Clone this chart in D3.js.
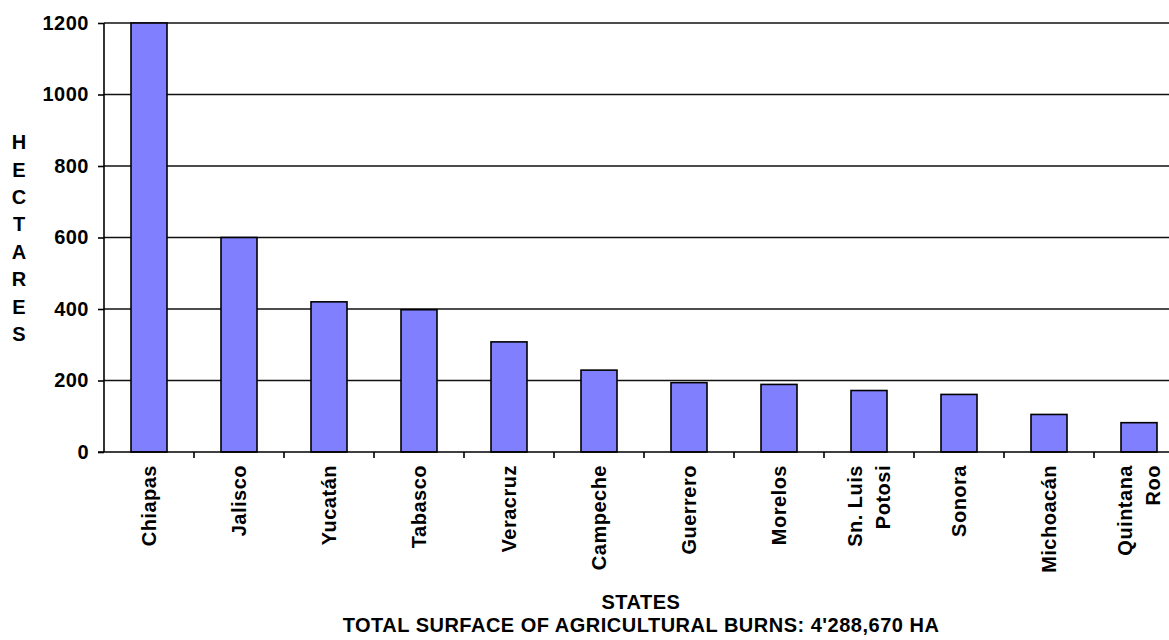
<!DOCTYPE html>
<html>
<head>
<meta charset="utf-8">
<script src="https://cdn.jsdelivr.net/npm/d3@7"></script>
<style>
  body { margin: 0; background: #fff; }
  text { font-family: Arial, "Liberation Sans", sans-serif; font-weight: bold; fill: #000; }
</style>
</head>
<body>
<div id="chart"></div>
<script>
// chart data
var states = ["Chiapas", "Jalisco", "Yucatán", "Tabasco", "Veracruz", "Campeche",
              "Guerrero", "Morelos", "Sn. Luis\nPotosi", "Sonora", "Michoacán", "Quintana\nRoo"];
var hectares = [1200, 600, 420, 398, 308, 229, 194, 189, 172, 161, 105, 82];
var yTicks = [0, 200, 400, 600, 800, 1000, 1200];
var yTitle = "HECTARES";
var xTitle = "STATES";
var subTitle = "TOTAL SURFACE OF AGRICULTURAL BURNS: 4'288,670 HA";

var W = 1169, H = 640;
var margin = { left: 104, top: 23, right: -15, bottom: 188 };
var fontSize = "20px";

var svg = d3.select("#chart").append("svg")
    .attr("width", W)
    .attr("height", H);

var x = d3.scaleBand()
    .domain(d3.range(states.length))
    .range([margin.left, W - margin.right])
    .paddingInner(0.6)
    .paddingOuter(0.3);

var y = d3.scaleLinear()
    .domain([0, 1200])
    .range([H - margin.bottom, margin.top]);

// gridlines
svg.append("g")
    .selectAll("line")
    .data(yTicks.filter(d => d > 0))
    .enter().append("line")
    .attr("x1", margin.left)
    .attr("x2", W - margin.right)
    .attr("y1", d => y(d))
    .attr("y2", d => y(d))
    .attr("stroke", "#111")
    .attr("stroke-width", 1.6);

// bars
svg.append("g")
    .selectAll("rect")
    .data(hectares)
    .enter().append("rect")
    .attr("x", (d, i) => x(i))
    .attr("width", x.bandwidth())
    .attr("y", d => y(d))
    .attr("height", d => y(0) - y(d))
    .attr("fill", "#8080ff")
    .attr("stroke", "#000")
    .attr("stroke-width", 1.6);

// y axis
var yAxis = svg.append("g")
    .attr("transform", `translate(${margin.left},0)`)
    .call(d3.axisLeft(y).tickValues(yTicks).tickFormat(d3.format("d")).tickSize(6).tickPadding(9));
yAxis.selectAll("path, line").attr("stroke", "#000").attr("stroke-width", 1.6);
yAxis.select(".domain").attr("d", `M0,${y(0)}V${y(1200)}`);
yAxis.selectAll("text")
    .style("font-size", fontSize)
    .style("letter-spacing", "0.5px")
    .style("font-family", "Arial, 'Liberation Sans', sans-serif")
    .style("font-weight", "bold")
    .attr("fill", "#000");

// x axis line + ticks at band boundaries
var step = x.step();
var bounds = d3.range(1, states.length + 1).map(i => margin.left + i * step);
svg.append("line")
    .attr("x1", margin.left - 6).attr("x2", W - margin.right)
    .attr("y1", y(0)).attr("y2", y(0))
    .attr("stroke", "#000").attr("stroke-width", 1.6);
svg.append("g")
    .selectAll("line")
    .data(bounds)
    .enter().append("line")
    .attr("x1", d => d).attr("x2", d => d)
    .attr("y1", y(0)).attr("y2", y(0) + 6)
    .attr("stroke", "#000").attr("stroke-width", 1.6);

// category labels, rotated
var labels = svg.append("g")
    .selectAll("text")
    .data(states)
    .enter().append("text")
    .attr("transform", (d, i) => `translate(${x(i) + x.bandwidth() / 2},${y(0) + 13}) rotate(-90)`)
    .attr("text-anchor", "end")
    .style("font-size", fontSize)
    .style("letter-spacing", "0.5px");

labels.each(function(d) {
    var lines = d.split("\n");
    var t = d3.select(this);
    lines.forEach(function(l, k) {
        t.append("tspan")
            .attr("x", 0)
            .attr("y", (k - (lines.length - 1) / 2) * 28)
            .attr("dy", "0.36em")
            .text(l);
    });
});

// stacked y title
svg.append("g")
    .selectAll("text")
    .data(yTitle.split(""))
    .enter().append("text")
    .attr("x", 19)
    .attr("y", (d, i) => 142 + i * 27.4)
    .attr("dy", "0.36em")
    .attr("text-anchor", "middle")
    .style("font-size", fontSize)
    .text(d => d);

var cx = 641;
svg.append("text")
    .attr("x", cx).attr("y", 609)
    .attr("text-anchor", "middle")
    .style("font-size", fontSize)
    .style("letter-spacing", "0.5px")
    .text(xTitle);
svg.append("text")
    .attr("x", cx).attr("y", 632)
    .attr("text-anchor", "middle")
    .style("font-size", fontSize)
    .style("letter-spacing", "0.5px")
    .text(subTitle);
</script>
</body>
</html>
